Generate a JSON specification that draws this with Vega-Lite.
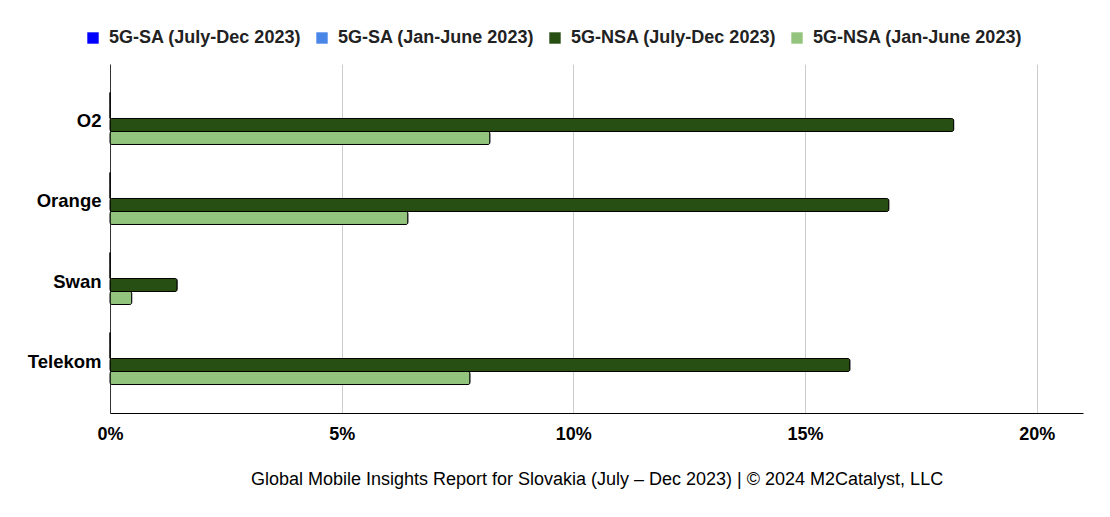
{
  "$schema": "https://vega.github.io/schema/vega-lite/v6.json",
  "width": 973,
  "height": 349,
  "autosize": "none",
  "padding": {"left": 110, "top": 64, "right": 27, "bottom": 104},
  "background": "white",
  "data": {
    "values": [
      {"operator": "O2", "series": "5G-SA (July-Dec 2023)", "share": 0},
      {"operator": "O2", "series": "5G-SA (Jan-June 2023)", "share": 0},
      {"operator": "O2", "series": "5G-NSA (July-Dec 2023)", "share": 18.21},
      {"operator": "O2", "series": "5G-NSA (Jan-June 2023)", "share": 8.2},
      {"operator": "Orange", "series": "5G-SA (July-Dec 2023)", "share": 0},
      {"operator": "Orange", "series": "5G-SA (Jan-June 2023)", "share": 0},
      {"operator": "Orange", "series": "5G-NSA (July-Dec 2023)", "share": 16.81},
      {"operator": "Orange", "series": "5G-NSA (Jan-June 2023)", "share": 6.43},
      {"operator": "Swan", "series": "5G-SA (July-Dec 2023)", "share": 0},
      {"operator": "Swan", "series": "5G-SA (Jan-June 2023)", "share": 0},
      {"operator": "Swan", "series": "5G-NSA (July-Dec 2023)", "share": 1.45},
      {"operator": "Swan", "series": "5G-NSA (Jan-June 2023)", "share": 0.47},
      {"operator": "Telekom", "series": "5G-SA (July-Dec 2023)", "share": 0},
      {"operator": "Telekom", "series": "5G-SA (Jan-June 2023)", "share": 0},
      {"operator": "Telekom", "series": "5G-NSA (July-Dec 2023)", "share": 15.97},
      {"operator": "Telekom", "series": "5G-NSA (Jan-June 2023)", "share": 7.77}
    ]
  },
  "mark": {"type": "bar", "stroke": "black", "strokeWidth": 1, "cornerRadius": 2},
  "encoding": {
    "y": {
      "field": "operator",
      "type": "nominal",
      "sort": ["O2", "Orange", "Swan", "Telekom"],
      "scale": {"paddingInner": 0.35, "paddingOuter": 0.356},
      "axis": {
        "title": null,
        "ticks": false,
        "labelPadding": 9,
        "labelOffset": 3,
        "labelFont": "Liberation Sans",
        "labelFontSize": 18.5,
        "labelFontWeight": "bold",
        "labelColor": "black",
        "domainColor": "#333333",
        "grid": false
      }
    },
    "yOffset": {
      "field": "series",
      "type": "nominal",
      "sort": ["5G-SA (July-Dec 2023)", "5G-SA (Jan-June 2023)", "5G-NSA (July-Dec 2023)", "5G-NSA (Jan-June 2023)"],
      "scale": {"paddingInner": 0, "paddingOuter": 0}
    },
    "x": {
      "field": "share",
      "type": "quantitative",
      "scale": {"domain": [0, 21], "nice": false},
      "axis": {
        "title": "Global Mobile Insights Report for Slovakia (July – Dec 2023) | © 2024 M2Catalyst, LLC",
        "titleFont": "Liberation Sans",
        "titleFontSize": 18,
        "titleFontWeight": "normal",
        "titleColor": "black",
        "titlePadding": 27,
        "values": [0, 5, 10, 15, 20],
        "labelExpr": "datum.value + '%'",
        "ticks": false,
        "labelPadding": 12,
        "labelFont": "Liberation Sans",
        "labelFontSize": 18,
        "labelFontWeight": "bold",
        "labelColor": "black",
        "domainColor": "black",
        "gridColor": "#cccccc",
        "labelFlush": false
      }
    },
    "color": {
      "field": "series",
      "type": "nominal",
      "scale": {
        "domain": ["5G-SA (July-Dec 2023)", "5G-SA (Jan-June 2023)", "5G-NSA (July-Dec 2023)", "5G-NSA (Jan-June 2023)"],
        "range": ["#0000ff", "#4a86e8", "#274e13", "#93c47d"]
      },
      "legend": {
        "title": null,
        "orient": "none",
        "direction": "horizontal",
        "legendX": -26,
        "legendY": -35,
        "symbolType": "square",
        "symbolSize": 130,
        "symbolStrokeWidth": 0,
        "labelFont": "Liberation Sans",
        "labelFontSize": 18,
        "labelFontWeight": "bold",
        "labelColor": "#222222",
        "labelOffset": 7,
        "columnPadding": 11,
        "labelLimit": 400
      }
    }
  },
  "config": {"view": {"stroke": null}}
}
